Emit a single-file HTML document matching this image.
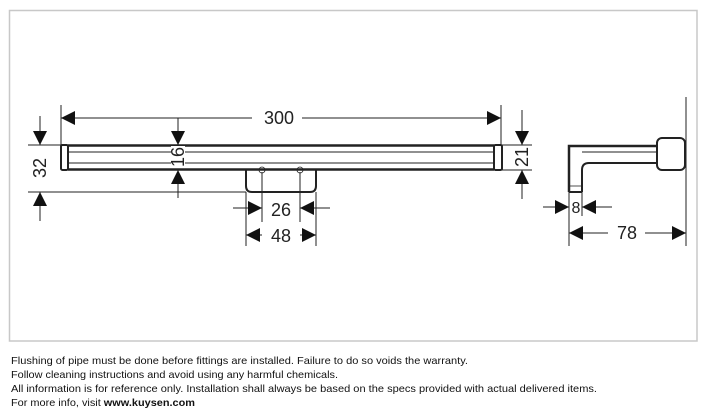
<!DOCTYPE html>
<html><head><meta charset="utf-8"><style>
html,body{margin:0;padding:0;background:#fff;}
svg{display:block;}
text{font-family:"Liberation Sans",sans-serif;}
</style></head><body>
<svg width="711" height="411" viewBox="0 0 711 411" xmlns="http://www.w3.org/2000/svg">
<rect x="9.5" y="10.5" width="687.5" height="330.5" fill="none" stroke="#c8c8c8" stroke-width="1.5"/>
<defs>
<marker id="a" viewBox="0 0 10 10" refX="10" refY="5" markerWidth="14" markerHeight="14" markerUnits="userSpaceOnUse" orient="auto-start-reverse"><path d="M0,0L10,5L0,10z" fill="#111"/></marker>
</defs>
<g stroke="#222" fill="none">
<rect x="61" y="145" width="7" height="25" rx="1.5" stroke-width="2"/>
<line x1="68" y1="145.5" x2="494" y2="145.5" stroke-width="2.5"/>
<line x1="68" y1="169.5" x2="494" y2="169.5" stroke-width="2.5"/>
<line x1="68" y1="152" x2="494" y2="152" stroke-width="1"/>
<line x1="68" y1="163" x2="494" y2="163" stroke-width="1"/>
<rect x="494" y="145" width="8" height="25" rx="1.5" stroke-width="2"/>
<path d="M246,170 V186 Q246,192 252,192 H310 Q316,192 316,186 V170" stroke-width="2"/>
<circle cx="262" cy="170" r="3" stroke-width="0.8"/>
<circle cx="300" cy="170" r="3" stroke-width="0.8"/>
<g stroke-width="1">
<line x1="61" y1="105" x2="61" y2="145"/>
<line x1="501" y1="105" x2="501" y2="145"/>
<line x1="61" y1="118" x2="252" y2="118" marker-start="url(#a)"/>
<line x1="302" y1="118" x2="501" y2="118" marker-end="url(#a)"/>
<line x1="28" y1="145" x2="61" y2="145"/>
<line x1="28" y1="192" x2="246" y2="192"/>
<line x1="40" y1="116" x2="40" y2="145" marker-end="url(#a)"/>
<line x1="40" y1="221" x2="40" y2="192" marker-end="url(#a)"/>
<line x1="178" y1="118" x2="178" y2="145" marker-end="url(#a)"/>
<line x1="178" y1="198" x2="178" y2="170" marker-end="url(#a)"/>
<line x1="262" y1="172" x2="262" y2="222"/>
<line x1="300" y1="172" x2="300" y2="222"/>
<line x1="246" y1="192" x2="246" y2="246"/>
<line x1="316" y1="192" x2="316" y2="246"/>
<line x1="233" y1="208" x2="262" y2="208" marker-end="url(#a)"/>
<line x1="330" y1="208" x2="300" y2="208" marker-end="url(#a)"/>
<line x1="262" y1="235" x2="246" y2="235" marker-end="url(#a)"/>
<line x1="300" y1="235" x2="316" y2="235" marker-end="url(#a)"/>
<line x1="502" y1="145" x2="532" y2="145"/>
<line x1="502" y1="170" x2="532" y2="170"/>
<line x1="522" y1="110" x2="522" y2="145" marker-end="url(#a)"/>
<line x1="522" y1="199" x2="522" y2="170" marker-end="url(#a)"/>
</g>
<path d="M569,192 V146 H657" stroke-width="2.5"/>
<path d="M582,192 V170 Q582,163 589,163 H657" stroke-width="2"/>
<line x1="569" y1="192" x2="582" y2="192" stroke-width="2"/>
<line x1="569" y1="186" x2="582" y2="186" stroke-width="0.8"/>
<line x1="582" y1="152" x2="657" y2="152" stroke-width="1"/>
<rect x="657" y="138" width="28" height="32" rx="5" stroke-width="2"/>
<g stroke-width="1">
<line x1="569" y1="192" x2="569" y2="246"/>
<line x1="582" y1="192" x2="582" y2="216"/>
<line x1="686" y1="97" x2="686" y2="246"/>
<line x1="543" y1="207" x2="569" y2="207" marker-end="url(#a)"/>
<line x1="612" y1="207" x2="582" y2="207" marker-end="url(#a)"/>
<line x1="608" y1="233" x2="569" y2="233" marker-end="url(#a)"/>
<line x1="645" y1="233" x2="686" y2="233" marker-end="url(#a)"/>
</g>
</g>
<rect x="171" y="146" width="14" height="22" fill="#fff"/>
<g fill="#222" font-size="18" text-anchor="middle">
<text x="279" y="124">300</text>
<text x="281" y="216">26</text>
<text x="281" y="242">48</text>
<text x="576" y="213" font-size="16">8</text>
<text x="627" y="239">78</text>
<text transform="translate(46,168) rotate(-90)">32</text>
<text transform="translate(184,157) rotate(-90)">16</text>
<text transform="translate(528,157) rotate(-90)">21</text>
</g>
<g font-size="10.5" fill="#111">
<text x="11" y="364" textLength="457" lengthAdjust="spacingAndGlyphs">Flushing of pipe must be done before fittings are installed. Failure to do so voids the warranty.</text>
<text x="11" y="378" textLength="327" lengthAdjust="spacingAndGlyphs">Follow cleaning instructions and avoid using any harmful chemicals.</text>
<text x="11" y="392" textLength="586" lengthAdjust="spacingAndGlyphs">All information is for reference only. Installation shall always be based on the specs provided with actual delivered items.</text>
<text x="11" y="406" textLength="184" lengthAdjust="spacingAndGlyphs">For more info, visit <tspan font-weight="bold">www.kuysen.com</tspan></text>
</g>
</svg>
</body></html>
